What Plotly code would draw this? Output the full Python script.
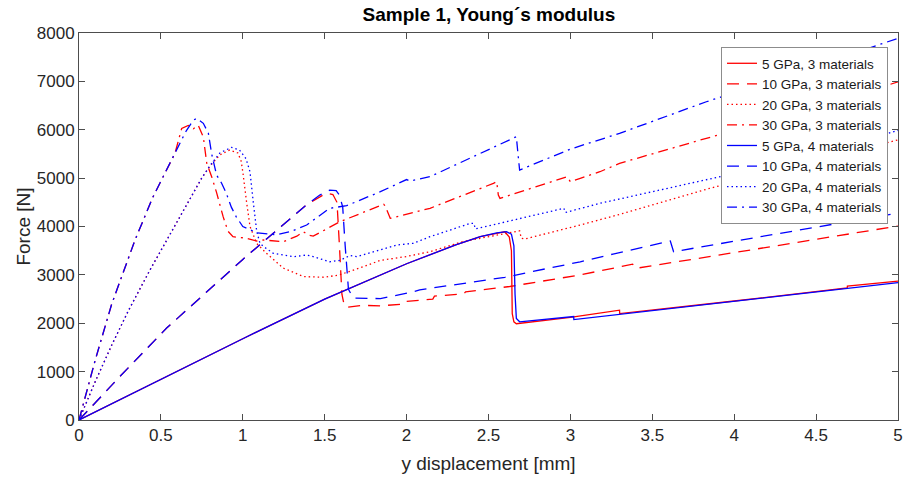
import plotly.graph_objects as go

# ---- data ----
r5_x = [0, 0.5, 1.0, 1.5, 2.0, 2.3, 2.45, 2.55, 2.60, 2.627, 2.64, 2.645, 2.655, 2.67, 3.0, 3.3, 3.301, 4.0, 4.69, 4.691, 5.0]
r5_f = [0, 840, 1680, 2500, 3230, 3620, 3790, 3860, 3890, 3780, 3500, 2200, 2030, 1990, 2120, 2270, 2200, 2460, 2730, 2770, 2870]

r10_x = [0, 0.25, 0.535, 1.0, 1.39, 1.47, 1.51, 1.55, 1.575, 1.59, 1.605, 1.62, 1.64, 1.73, 1.84, 1.99, 2.0, 2.16, 2.17, 2.35, 2.36, 2.63, 3.06, 3.38, 3.40, 4.0, 4.5, 5.0]
r10_f = [0, 900, 1900, 3320, 4450, 4620, 4690, 4660, 4500, 3600, 2600, 2360, 2330, 2370, 2360, 2400, 2450, 2500, 2560, 2610, 2650, 2760, 3000, 3220, 3135, 3460, 3740, 4010]

r20_x = [0, 0.1, 0.2, 0.3, 0.433, 0.535, 0.65, 0.749, 0.8, 0.86, 0.92, 0.97, 0.99, 1.0, 1.024, 1.044, 1.085, 1.146, 1.247, 1.37, 1.5, 1.59, 1.736, 1.84, 2.0, 2.143, 2.346, 2.63, 2.69, 2.70, 2.72, 3.06, 3.3, 3.85, 4.5, 5.0]
r20_f = [0, 800, 1550, 2250, 3100, 3720, 4400, 5000, 5250, 5480, 5580, 5520, 5350, 5130, 4480, 4000, 3650, 3440, 3140, 2965, 2950, 3000, 3170, 3300, 3380, 3480, 3690, 3860, 3910, 3760, 3740, 4031, 4250, 4789, 5355, 5790]

r30_x = [0, 0.1, 0.2, 0.342, 0.45, 0.586, 0.627, 0.667, 0.698, 0.728, 0.759, 0.78, 0.81, 0.84, 0.88, 0.91, 0.94, 1.02, 1.085, 1.125, 1.247, 1.33, 1.37, 1.40, 1.43, 1.593, 1.86, 1.87, 1.90, 2.143, 2.53, 2.55, 2.56, 2.57, 2.98, 3.0, 3.06, 3.18, 3.30, 3.83, 4.5, 5.0]
r30_f = [0, 1250, 2400, 3720, 4600, 5513, 6029, 6090, 6020, 6090, 5850, 5306, 5029, 4700, 4203, 3900, 3789, 3760, 3700, 3721, 3686, 3800, 3893, 3820, 3800, 4099, 4460, 4420, 4169, 4376, 4892, 4926, 4650, 4582, 5029, 4926, 4995, 5132, 5306, 5823, 6450, 6990]

b5_x = [0, 0.5, 1.0, 1.5, 2.0, 2.3, 2.45, 2.55, 2.61, 2.64, 2.655, 2.662, 2.67, 2.69, 3.02, 3.021, 4.0, 5.0]
b5_f = [0, 840, 1680, 2500, 3230, 3620, 3790, 3870, 3895, 3840, 3600, 2600, 2100, 2030, 2140, 2075, 2450, 2840]

b10_x = [0, 0.25, 0.535, 1.0, 1.39, 1.47, 1.53, 1.57, 1.59, 1.61, 1.625, 1.645, 1.675, 1.84, 2.04, 2.08, 2.16, 2.33, 2.45, 2.6, 2.855, 3.06, 3.26, 3.6, 3.61, 3.63, 4.0, 4.5, 5.0]
b10_f = [0, 900, 1900, 3320, 4450, 4650, 4750, 4740, 4650, 4400, 3600, 2700, 2520, 2510, 2650, 2690, 2730, 2820, 2880, 2950, 3130, 3270, 3430, 3690, 3700, 3480, 3695, 3987, 4278]

b20_x = [0, 0.1, 0.2, 0.3, 0.433, 0.535, 0.65, 0.749, 0.8, 0.86, 0.93, 0.98, 1.02, 1.044, 1.064, 1.085, 1.105, 1.125, 1.186, 1.31, 1.39, 1.43, 1.53, 1.593, 1.654, 1.695, 1.94, 2.04, 2.143, 2.39, 2.41, 2.42, 2.96, 2.97, 3.18, 3.30, 3.83, 4.5, 5.0]
b20_f = [0, 800, 1550, 2250, 3100, 3720, 4400, 5000, 5260, 5520, 5636, 5581, 5400, 5130, 4500, 3900, 3650, 3590, 3446, 3376, 3410, 3376, 3272, 3300, 3400, 3376, 3617, 3652, 3789, 4066, 4066, 3950, 4376, 4290, 4479, 4570, 4961, 5470, 5987]

b30_x = [0, 0.1, 0.2, 0.342, 0.45, 0.586, 0.65, 0.698, 0.72, 0.759, 0.79, 0.81, 0.82, 0.84, 0.87, 0.90, 0.93, 0.96, 1.0, 1.044, 1.085, 1.207, 1.29, 1.39, 1.53, 1.634, 1.84, 2.0, 2.02, 2.143, 2.45, 2.67, 2.68, 2.69, 3.0, 3.18, 3.30, 3.83, 4.5, 5.0]
b30_f = [0, 1250, 2400, 3720, 4600, 5513, 5950, 6200, 6236, 6133, 5926, 5500, 5340, 5064, 4900, 4680, 4400, 4200, 4000, 3930, 3870, 3830, 3893, 4031, 4376, 4430, 4720, 4970, 4940, 5030, 5513, 5856, 5500, 5168, 5600, 5788, 5926, 6579, 7320, 7890]

series_names = ["5 GPa, 3 materials", "10 GPa, 3 materials", "20 GPa, 3 materials", "30 GPa, 3 materials",
                "5 GPa, 4 materials", "10 GPa, 4 materials", "20 GPa, 4 materials", "30 GPa, 4 materials"]
x_ticks = [0, 0.5, 1, 1.5, 2, 2.5, 3, 3.5, 4, 4.5, 5]
x_tick_labels = ["0", "0.5", "1", "1.5", "2", "2.5", "3", "3.5", "4", "4.5", "5"]
y_ticks = [0, 1000, 2000, 3000, 4000, 5000, 6000, 7000, 8000]

# ---- styling ----
RED = "#ff0000"
BLUE = "#0000ff"
DASH = "12px,8px"
DOT = "1.5px,3px"
DASHDOT = "10px,5px,2px,5px"

data = [
    (r5_x, r5_f, RED, "solid"),
    (r10_x, r10_f, RED, DASH),
    (r20_x, r20_f, RED, DOT),
    (r30_x, r30_f, RED, DASHDOT),
    (b5_x, b5_f, BLUE, "solid"),
    (b10_x, b10_f, BLUE, DASH),
    (b20_x, b20_f, BLUE, DOT),
    (b30_x, b30_f, BLUE, DASHDOT),
]

fig = go.Figure()
for (xs, fs, col, dash), name in zip(data, series_names):
    fig.add_trace(go.Scatter(x=xs, y=fs, mode="lines", name=name,
                             line=dict(color=col, width=1.3, dash=dash)))

FONT = "Liberation Sans, Arial, Helvetica, sans-serif"
axis_common = dict(showgrid=False, zeroline=False, showline=True, mirror="ticks",
                   linecolor="#4d4d4d", linewidth=1, ticks="inside", ticklen=6,
                   tickcolor="#4d4d4d", automargin=False,
                   tickfont=dict(family=FONT, size=17, color="#262626"))

fig.update_layout(
    width=908, height=479,
    margin=dict(l=79, r=10, t=33, b=59),
    paper_bgcolor="white", plot_bgcolor="white",
    title=dict(text="<b>Sample 1, Young\u00b4s modulus</b>", x=0.5385, xanchor="center",
               y=0.97, yanchor="middle",
               font=dict(family=FONT, size=19, color="#000000")),
    xaxis=dict(range=[0, 5], tickvals=x_ticks, ticktext=x_tick_labels,
               title=dict(text="y displacement [mm]", font=dict(family=FONT, size=19, color="#262626"), standoff=12),
               **axis_common),
    yaxis=dict(range=[0, 8000], tickvals=y_ticks,
               title=dict(text="Force [N]", font=dict(family=FONT, size=19, color="#262626"), standoff=1),
               **axis_common),
    legend=dict(x=0.9878, xanchor="right", y=0.9638, yanchor="top",
                bgcolor="white", bordercolor="#8c8c8c", borderwidth=1,
                font=dict(family=FONT, size=13.5, color="#1a1a1a"),
                entrywidth=172, entrywidthmode="pixels",
                tracegroupgap=0),
    showlegend=True,
)

fig.write_html("out.html", config={"displayModeBar": False},
               post_script="document.body.style.margin='0';document.body.style.overflow='hidden';")
